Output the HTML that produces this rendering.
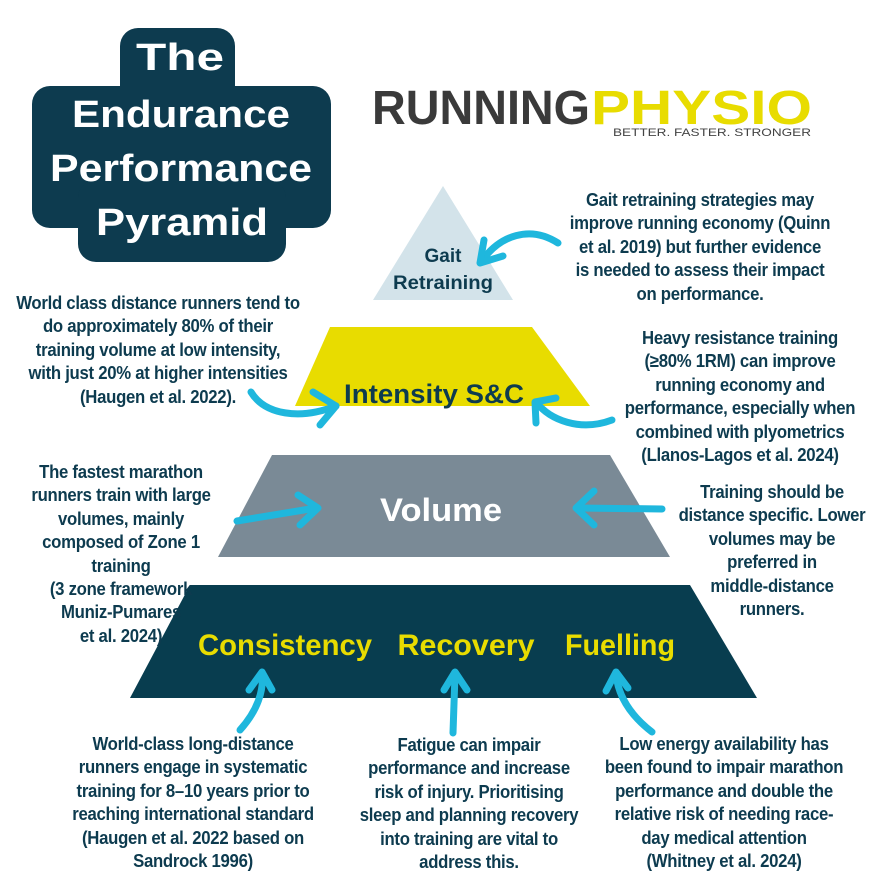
<!DOCTYPE html>
<html><head><meta charset="utf-8"><style>
body{margin:0;background:#fff}
#c{position:relative;width:886px;height:886px;overflow:hidden;background:#fff;font-family:"Liberation Sans",sans-serif}
.t{position:absolute;text-align:center;color:#0d3b4f;font-weight:bold;font-size:18px;line-height:23.4px;white-space:nowrap;transform:translateX(-50%) scaleX(0.93);letter-spacing:-0.3px}
svg{position:absolute;left:0;top:0}
</style></head><body><div id="c">
<svg width="886" height="886">
<g fill="#0d3b4f">
<rect x="120" y="28" width="115" height="90" rx="18"/>
<rect x="32" y="86" width="299" height="142" rx="18"/>
<rect x="78" y="180" width="208" height="82" rx="18"/>
</g>
<polygon points="443,186 513,300 373,300" fill="#d3e3ea"/>
<polygon points="330,327 532,327 590,406 295,406" fill="#e8dc00"/>
<polygon points="272,455 610,455 670,557 218,557" fill="#7a8a96"/>
<polygon points="190,585 690,585 757,698 130,698" fill="#083d4f"/>
<g stroke="#1fb7dd" stroke-width="7" fill="none" stroke-linecap="round" stroke-linejoin="round">
<path d="M558,243 C530,225 500,235 481,262"/><path d="M484,240 L480,263 L503,256"/>
<path d="M251,392 C265,415 300,420 336,406"/><path d="M313,392 L336,406 L320,425"/>
<path d="M612,420 C580,432 550,420 536,402"/><path d="M536,423 L535,402 L556,398"/>
<path d="M237,521 L316,508"/><path d="M298,495 L318,508 L300,525"/>
<path d="M662,509 L578,508"/><path d="M594,491 L576,508 L594,525"/>
<path d="M240,730 C258,710 264,690 262,673"/><path d="M249,690 L262,672 L272,690"/>
<path d="M453,733 L455,674"/><path d="M444,690 L455,672 L467,690"/>
<path d="M652,732 C630,715 618,695 616,674"/><path d="M606,691 L616,672 L628,688"/>
</g>
<text x="180" y="70" fill="#fff" font-size="38" font-weight="bold" text-anchor="middle" font-family="Liberation Sans" textLength="88" lengthAdjust="spacingAndGlyphs">The</text>
<text x="181" y="127" fill="#fff" font-size="38" font-weight="bold" text-anchor="middle" font-family="Liberation Sans" textLength="218" lengthAdjust="spacingAndGlyphs">Endurance</text>
<text x="181" y="181" fill="#fff" font-size="38" font-weight="bold" text-anchor="middle" font-family="Liberation Sans" textLength="262" lengthAdjust="spacingAndGlyphs">Performance</text>
<text x="182" y="235" fill="#fff" font-size="38" font-weight="bold" text-anchor="middle" font-family="Liberation Sans" textLength="172" lengthAdjust="spacingAndGlyphs">Pyramid</text>
<text x="372" y="124" fill="#3a3a3a" font-size="48" font-weight="bold" font-family="Liberation Sans" textLength="218" lengthAdjust="spacingAndGlyphs">RUNNING</text>
<text x="591" y="124" fill="#e8dc00" font-size="48" font-weight="bold" font-family="Liberation Sans" textLength="221" lengthAdjust="spacingAndGlyphs">PHYSIO</text>
<text x="613" y="136" fill="#444" font-size="11" font-family="Liberation Sans" textLength="198" lengthAdjust="spacingAndGlyphs">BETTER. FASTER. STRONGER</text>
<g font-family="Liberation Sans" font-weight="bold" text-anchor="middle">
<text x="443" y="262" fill="#0d3b4f" font-size="19">Gait</text>
<text x="443" y="289" fill="#0d3b4f" font-size="19" textLength="100" lengthAdjust="spacingAndGlyphs">Retraining</text>
<text x="434" y="403" fill="#0d3b4f" font-size="27" textLength="180" lengthAdjust="spacingAndGlyphs">Intensity  S&amp;C</text>
<text x="441" y="521" fill="#fff" font-size="32" textLength="122" lengthAdjust="spacingAndGlyphs">Volume</text>
<text x="285" y="655" fill="#e8dc00" font-size="30" textLength="174" lengthAdjust="spacingAndGlyphs">Consistency</text>
<text x="466" y="655" fill="#e8dc00" font-size="30" textLength="137" lengthAdjust="spacingAndGlyphs">Recovery</text>
<text x="620" y="655" fill="#e8dc00" font-size="30" textLength="110" lengthAdjust="spacingAndGlyphs">Fuelling</text>
</g>
</svg>
<div class="t" style="left:700px;top:189px">Gait retraining strategies may<br>improve running economy (Quinn<br>et al. 2019) but further evidence<br>is needed to assess their impact<br>on performance.</div>
<div class="t" style="left:158px;top:292px">World class distance runners tend to<br>do approximately 80% of their<br>training volume at low intensity,<br>with just 20% at higher intensities<br>(Haugen et al. 2022).</div>
<div class="t" style="left:740px;top:327px">Heavy resistance training<br>(≥80% 1RM) can improve<br>running economy and<br>performance, especially when<br>combined with plyometrics<br>(Llanos-Lagos et al. 2024)</div>
<div class="t" style="left:121px;top:461px">The fastest marathon<br>runners train with large<br>volumes, mainly<br>composed of Zone 1<br>training<br>(3 zone framework<br>Muniz-Pumares<br>et al. 2024)</div>
<div class="t" style="left:772px;top:481px">Training should be<br>distance specific. Lower<br>volumes may be<br>preferred in<br>middle-distance<br>runners.</div>
<div class="t" style="left:193px;top:733px">World-class long-distance<br>runners engage in systematic<br>training for 8–10 years prior to<br>reaching international standard<br>(Haugen et al. 2022 based on<br>Sandrock 1996)</div>
<div class="t" style="left:469px;top:734px">Fatigue can impair<br>performance and increase<br>risk of injury. Prioritising<br>sleep and planning recovery<br>into training are vital to<br>address this.</div>
<div class="t" style="left:724px;top:733px">Low energy availability has<br>been found to impair marathon<br>performance and double the<br>relative risk of needing race-<br>day medical attention<br>(Whitney et al. 2024)</div>
</div></body></html>
